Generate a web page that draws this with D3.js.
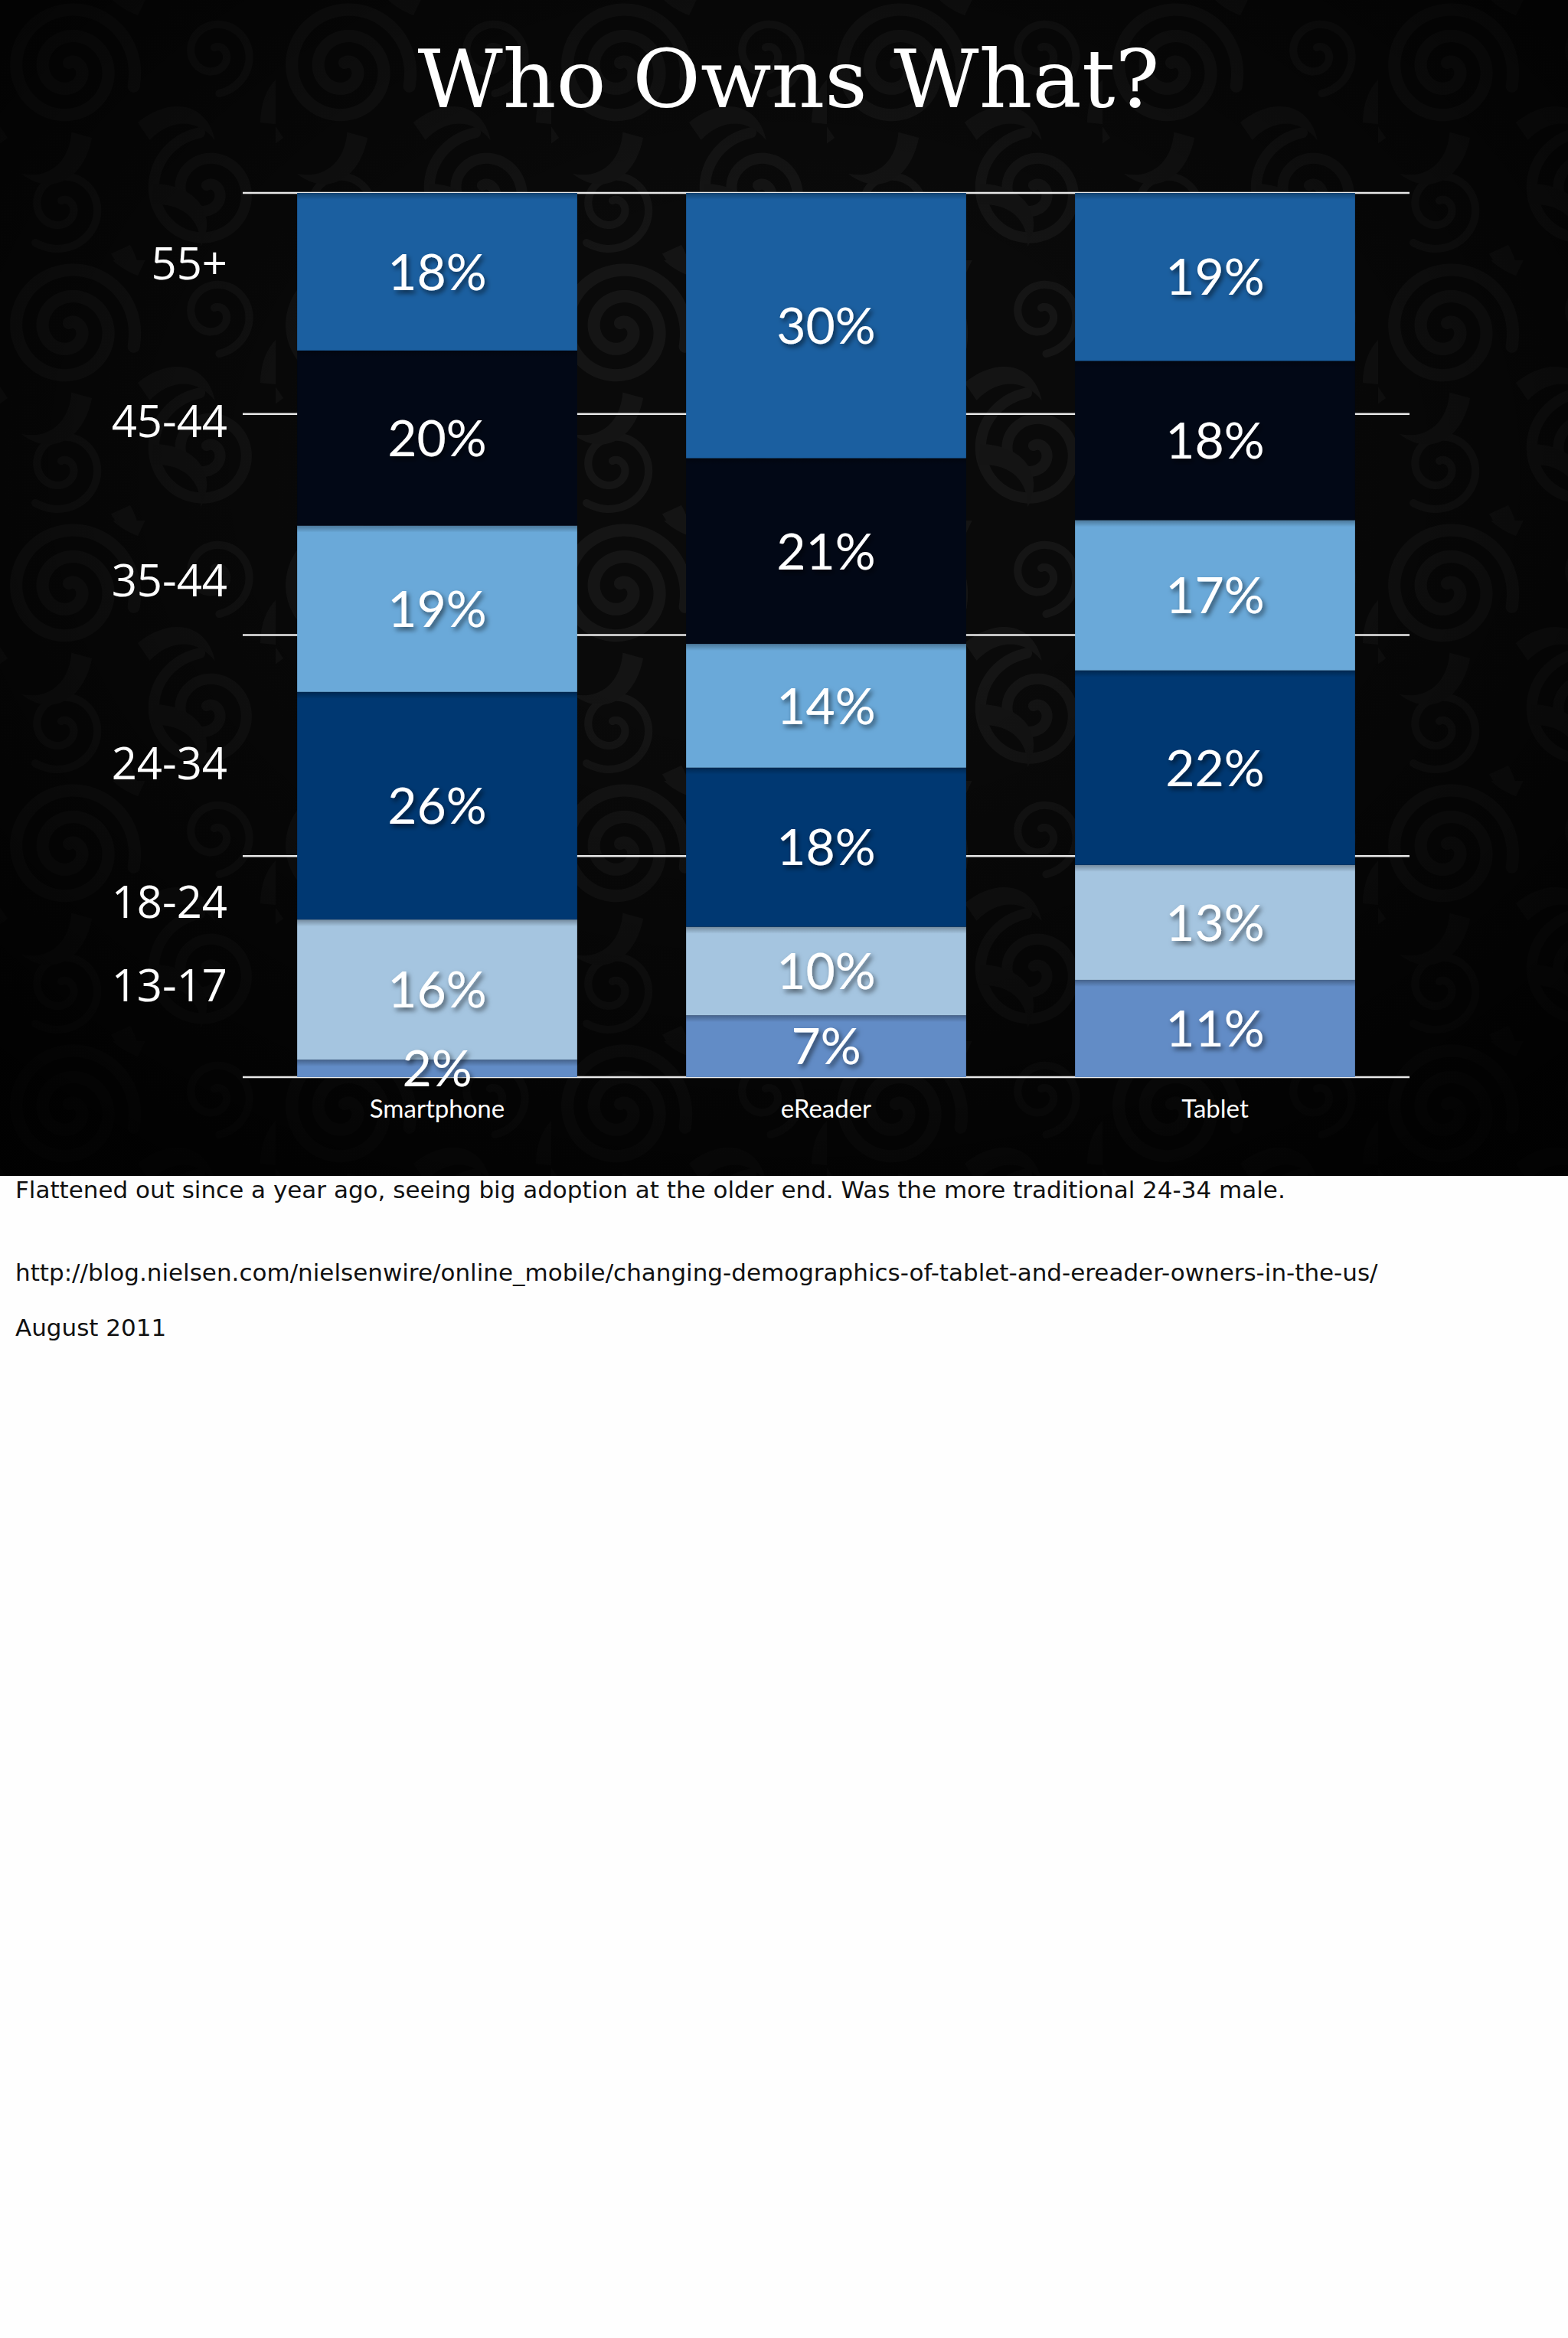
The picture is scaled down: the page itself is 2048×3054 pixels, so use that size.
<!DOCTYPE html>
<html>
<head>
<meta charset="utf-8">
<title>Who Owns What?</title>
<script src="https://cdn.jsdelivr.net/npm/d3@7"></script>
<style>
	body { margin: 0; background: #fefefe; }
	svg { display: block; }
</style>
</head>
<body>
<div id="chart"></div>
<script>
// devices along the x axis
var devices = ['Smartphone', 'eReader', 'Tablet'];

// age groups, bottom of the stack first (labels as printed on the slide)
var ageGroups = ['13-17', '18-24', '24-34', '35-44', '45-44', '55+'];

// share of owners per age group, one value per device
var share13to17 = [2, 7, 11];
var share18to24 = [16, 10, 13];
var share24to34 = [26, 18, 22];
var share35to44 = [19, 14, 17];
var share45to54 = [20, 21, 18];
var share55plus = [18, 30, 19];

// where the age labels sit on the 0..1 axis
var ageTickAt = [0.104, 0.198, 0.355, 0.562, 0.742, 0.92];
var gridTicks = [0, 0.25, 0.5, 0.75, 1];

var notes = [
	'Flattened out since a year ago, seeing big adoption at the older end. Was the more traditional 24-34 male.',
	'http://blog.nielsen.com/nielsenwire/online_mobile/changing-demographics-of-tablet-and-ereader-owners-in-the-us/',
	'August 2011'
];

var ageColors = ['#628cc6', '#a5c5e0', '#003872', '#6aa9d9', '#020816', '#1b5fa0'];

var W = 2048, H = 3054, slideH = 1536;

var rows = devices.map(function (d, i) {
	return {
		device: d,
		'13-17': share13to17[i],
		'18-24': share18to24[i],
		'24-34': share24to34[i],
		'35-44': share35to44[i],
		'45-44': share45to54[i],
		'55+': share55plus[i]
	};
});

var series = d3.stack()
	.keys(ageGroups)
	.offset(d3.stackOffsetExpand)(rows);

var x = d3.scaleBand()
	.domain(devices)
	.range([317, 1841])
	.paddingInner(0.28)
	.paddingOuter(0.14);

var y = d3.scaleLinear()
	.domain([0, 1])
	.range([1407, 252]);

var color = d3.scaleOrdinal().domain(ageGroups).range(ageColors);

var svg = d3.select('#chart').append('svg')
	.attr('width', W)
	.attr('height', H);

var defs = svg.append('defs');

// label shadow
defs.append('filter').attr('id', 'shadow')
	.attr('x', '-20%').attr('y', '-20%').attr('width', '140%').attr('height', '140%')
	.append('feDropShadow')
	.attr('dx', 3).attr('dy', 4).attr('stdDeviation', 3)
	.attr('flood-color', '#000').attr('flood-opacity', 0.55);

// soft dark edge at the top of each segment
var topShade = defs.append('linearGradient').attr('id', 'topShade')
	.attr('x1', 0).attr('y1', 0).attr('x2', 0).attr('y2', 1);
topShade.append('stop').attr('offset', 0).attr('stop-color', '#000').attr('stop-opacity', 0.3);
topShade.append('stop').attr('offset', 1).attr('stop-color', '#000').attr('stop-opacity', 0);

// vignette over the damask background
var vig = defs.append('radialGradient').attr('id', 'vignette')
	.attr('cx', 0.5).attr('cy', 0.4).attr('r', 0.7);
vig.append('stop').attr('offset', 0.3).attr('stop-color', '#000').attr('stop-opacity', 0);
vig.append('stop').attr('offset', 1).attr('stop-color', '#000').attr('stop-opacity', 0.85);

// rough damask tile: swirls and leaves
var tile = defs.append('pattern').attr('id', 'damask')
	.attr('patternUnits', 'userSpaceOnUse')
	.attr('width', 360).attr('height', 340);
tile.append('rect').attr('width', 360).attr('height', 340).attr('fill', '#0a0a0a');

var spiral = function (turns, r0) {
	var pts = d3.range(0, turns * 2 * Math.PI, 0.15).map(function (a) {
		return [a, 8 + r0 * a / (turns * 2 * Math.PI)];
	});
	return d3.lineRadial().curve(d3.curveBasis)(pts);
};

[[90, 90, 2.3, 80, 16], [270, 250, 2.0, 70, 14], [280, 70, 1.5, 45, 10], [80, 270, 1.6, 50, 10]].forEach(function (s) {
	tile.append('path')
		.attr('d', spiral(s[2], s[3]))
		.attr('transform', 'translate(' + s[0] + ',' + s[1] + ')')
		.attr('fill', 'none')
		.attr('stroke', '#151515')
		.attr('stroke-width', s[4])
		.attr('stroke-linecap', 'round');
});

[[180, 160, 20], [10, 180, 200], [340, 160, -30], [170, 320, 120], [180, 20, 260], [200, 240, 60], [120, 180, 160]].forEach(function (l) {
	tile.append('path')
		.attr('d', 'M0,0 C18,-30 48,-34 64,-8 C44,-20 24,-12 14,10 Z')
		.attr('transform', 'translate(' + l[0] + ',' + l[1] + ') rotate(' + l[2] + ') scale(1.6)')
		.attr('fill', '#141414');
});

// slide background
svg.append('rect').attr('width', W).attr('height', slideH).attr('fill', 'url(#damask)');
svg.append('rect').attr('width', W).attr('height', slideH).attr('fill', 'url(#vignette)');

svg.append('text')
	.attr('x', 1030)
	.attr('y', 140)
	.attr('text-anchor', 'middle')
	.attr('textLength', 969)
	.attr('lengthAdjust', 'spacingAndGlyphs')
	.style('font-family', '"DejaVu Serif", serif')
	.style('font-size', '104px')
	.attr('fill', '#fff')
	.text('Who Owns What?');

// gridlines sit behind the bars
svg.append('g').selectAll('line')
	.data(gridTicks)
	.join('line')
	.attr('x1', 317).attr('x2', 1841)
	.attr('y1', function (d) { return y(d); })
	.attr('y2', function (d) { return y(d); })
	.attr('stroke', '#e8e8e8')
	.attr('stroke-width', 2.5);

var layers = svg.append('g').selectAll('g')
	.data(series)
	.join('g')
	.attr('fill', function (d) { return color(d.key); });

layers.selectAll('rect.seg')
	.data(function (d) { return d; })
	.join('rect')
	.attr('class', 'seg')
	.attr('x', function (d) { return x(d.data.device); })
	.attr('y', function (d) { return y(d[1]); })
	.attr('width', x.bandwidth())
	.attr('height', function (d) { return y(d[0]) - y(d[1]); });

layers.selectAll('rect.shade')
	.data(function (d) { return d; })
	.join('rect')
	.attr('class', 'shade')
	.attr('x', function (d) { return x(d.data.device); })
	.attr('y', function (d) { return y(d[1]); })
	.attr('width', x.bandwidth())
	.attr('height', function (d) { return Math.min(9, y(d[0]) - y(d[1])); })
	.attr('fill', 'url(#topShade)');

// percent labels
var labels = svg.append('g')
	.style('font-family', 'Lato, sans-serif')
	.style('font-size', '66px')
	.attr('fill', '#fff')
	.attr('text-anchor', 'middle')
	.attr('filter', 'url(#shadow)');

series.forEach(function (s) {
	s.forEach(function (d) {
		labels.append('text')
			.attr('x', x(d.data.device) + x.bandwidth() / 2)
			.attr('y', (y(d[0]) + y(d[1])) / 2)
			.attr('dy', '0.36em')
			.text(d.data[s.key] + '%');
	});
});

// age labels on the left
svg.append('g').selectAll('text')
	.data(ageGroups)
	.join('text')
	.attr('x', 297)
	.attr('y', function (d, i) { return y(ageTickAt[i]); })
	.attr('dy', '0.36em')
	.attr('text-anchor', 'end')
	.style('font-family', '"Open Sans", sans-serif')
	.style('font-size', '58px')
	.attr('fill', '#fff')
	.text(function (d) { return d; });

// device names
svg.append('g').selectAll('text')
	.data(devices)
	.join('text')
	.attr('x', function (d) { return x(d) + x.bandwidth() / 2; })
	.attr('y', 1460)
	.attr('text-anchor', 'middle')
	.style('font-family', 'Lato, sans-serif')
	.style('font-size', '33px')
	.attr('fill', '#fff')
	.text(function (d) { return d; });

// speaker notes under the slide
svg.append('rect').attr('y', slideH).attr('width', W).attr('height', H - slideH).attr('fill', '#fefefe');
svg.append('g').selectAll('text')
	.data(notes)
	.join('text')
	.attr('x', 20)
	.attr('y', function (d, i) { return [1565, 1673, 1745][i]; })
	.style('font-family', '"DejaVu Sans", sans-serif')
	.style('font-size', '31px')
	.attr('fill', '#111')
	.text(function (d) { return d; });
</script>
</body>
</html>
